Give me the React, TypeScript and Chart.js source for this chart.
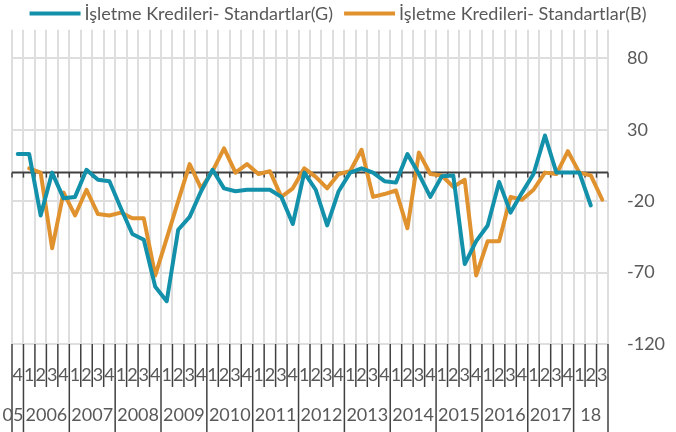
import React, { useEffect, useRef } from 'react';
import { Chart, registerables } from 'chart.js';

Chart.register(...registerables);

// Quarter labels for every category (2005Q4 ... 2018Q3)
const quarterLabels: string[] = [
  '4',
  '1', '2', '3', '4', // 2006
  '1', '2', '3', '4', // 2007
  '1', '2', '3', '4', // 2008
  '1', '2', '3', '4', // 2009
  '1', '2', '3', '4', // 2010
  '1', '2', '3', '4', // 2011
  '1', '2', '3', '4', // 2012
  '1', '2', '3', '4', // 2013
  '1', '2', '3', '4', // 2014
  '1', '2', '3', '4', // 2015
  '1', '2', '3', '4', // 2016
  '1', '2', '3', '4', // 2017
  '1', '2', '3',      // 2018
];

// Year group labels (a new group starts where the quarter is "1")
const yearLabels: string[] = [
  '05', '2006', '2007', '2008', '2009', '2010', '2011', '2012',
  '2013', '2014', '2015', '2016', '2017', '18',
];

const seriesNames: string[] = [
  'İşletme Kredileri- Standartlar(G)',
  'İşletme Kredileri- Standartlar(B)',
];

const seriesG: (number | null)[] = [
  13,
  13, -30, 0, -18,
  -17, 2, -5, -6,
  -25, -43, -47, -80,
  -90, -40, -31, -13,
  2, -11, -13, -12,
  -12, -12, -17, -36,
  0, -12, -37, -13,
  0, 3, 0, -6,
  -7, 13, -1, -17,
  -2.5, -2, -64, -48,
  -37, -6.5, -28, -14,
  -1, 26, 0, 0,
  0, -23, null,
];

const seriesB: (number | null)[] = [
  null,
  3, 0, -53, -14,
  -30, -12, -29, -30,
  -28, -32, -32, -72,
  -46, -20, 6, -11,
  1, 17, 0, 6,
  -1, 1, -17, -11,
  3, -3, -11, -1,
  1, 16, -17, -15,
  -12.5, -39, 14, -1,
  -2, -10, -5, -72,
  -48, -48, -17, -19,
  -12, 0, -1, 15,
  0, -2, -19,
];

const yTickValues: number[] = [-120, -70, -20, 30, 80];
const yMin = -120;
const yMax = 100;

const colorG = '#1390AA';
const colorB = '#E0922F';
const TEXT = '#595959';
const DARK = '#404040';
const GRID = '#dedede';
const FONT_FAMILY = 'Lato';
const FONT_SIZE = 18;

const excelAxisPlugin = {
  id: 'excelAxis',
  beforeDatasetsDraw(chart: any) {
    const { ctx, chartArea, scales } = chart;
    const x = scales.x;
    const y = scales.y;
    const n = chart.data.labels.length;
    const half = (x.getPixelForValue(1) - x.getPixelForValue(0)) / 2;
    const y0 = y.getPixelForValue(0);
    ctx.save();
    ctx.strokeStyle = DARK;
    ctx.lineWidth = 2;
    ctx.beginPath();
    ctx.moveTo(chartArea.left, y0);
    ctx.lineTo(chartArea.right, y0);
    ctx.stroke();
    ctx.lineWidth = 1.5;
    for (let i = 0; i <= n; i++) {
      const bx = i < n ? x.getPixelForValue(i) - half : x.getPixelForValue(n - 1) + half;
      ctx.beginPath();
      ctx.moveTo(bx, y0);
      ctx.lineTo(bx, y0 + 5);
      ctx.stroke();
    }
    ctx.restore();
  },
  afterDraw(chart: any) {
    const { ctx, chartArea, scales, width, height } = chart;
    const x = scales.x;
    const labels: string[] = chart.data.labels;
    const n = labels.length;
    const half = (x.getPixelForValue(1) - x.getPixelForValue(0)) / 2;
    const bottom = chartArea.bottom;
    const boundary = (i: number) =>
      i < n ? x.getPixelForValue(i) - half : x.getPixelForValue(n - 1) + half;

    ctx.save();
    ctx.font = `${FONT_SIZE}px ${FONT_FAMILY}`;
    ctx.fillStyle = TEXT;
    ctx.textBaseline = 'middle';

    // quarter labels
    ctx.textAlign = 'center';
    for (let i = 0; i < n; i++) {
      ctx.fillText(labels[i], x.getPixelForValue(i), bottom + 31);
    }

    // year groups
    const starts: number[] = [0];
    for (let i = 1; i < n; i++) if (labels[i] === '1') starts.push(i);
    const isYearStart = new Set(starts);

    ctx.strokeStyle = DARK;
    ctx.lineWidth = 1.5;
    for (let i = 0; i <= n; i++) {
      const bx = boundary(i);
      const full = i === n || isYearStart.has(i);
      ctx.beginPath();
      ctx.moveTo(bx, bottom);
      ctx.lineTo(bx, full ? height : bottom + 43);
      ctx.stroke();
    }

    for (let g = 0; g < starts.length; g++) {
      const s = starts[g];
      const e = g + 1 < starts.length ? starts[g + 1] : n;
      const left = boundary(s);
      const right = boundary(e);
      const text = yearLabels[g];
      const w = ctx.measureText(text).width;
      if (w > right - left) {
        ctx.textAlign = 'right';
        ctx.fillText(text, right, bottom + 71);
      } else {
        ctx.textAlign = 'center';
        ctx.fillText(text, (left + right) / 2, bottom + 71);
      }
    }

    // legend
    const lineLen = 51;
    const gap = 4;
    const itemGap = 11;
    const items = chart.data.datasets.map((d: any) => ({
      label: d.label,
      color: d.borderColor,
      w: ctx.measureText(d.label).width,
    }));
    const total =
      items.reduce((a: number, it: any) => a + lineLen + gap + it.w, 0) + itemGap * (items.length - 1);
    let cx = (width - total) / 2;
    const ly = 13.5;
    ctx.textAlign = 'left';
    ctx.textBaseline = 'alphabetic';
    for (const it of items) {
      ctx.strokeStyle = it.color;
      ctx.lineWidth = 4;
      ctx.beginPath();
      ctx.moveTo(cx, ly);
      ctx.lineTo(cx + lineLen, ly);
      ctx.stroke();
      cx += lineLen + gap;
      ctx.fillStyle = TEXT;
      ctx.fillText(it.label, cx, 19.5);
      cx += it.w + itemGap;
    }
    ctx.restore();
  },
};

export default function App() {
  const canvasRef = useRef<HTMLCanvasElement | null>(null);

  useEffect(() => {
    document.body.style.margin = '0';
    const canvas = canvasRef.current;
    if (!canvas) return;
    const chart = new Chart(canvas, {
      type: 'line',
      data: {
        labels: quarterLabels,
        datasets: [
          {
            label: seriesNames[0],
            data: seriesG,
            borderColor: colorG,
            backgroundColor: colorG,
            borderWidth: 4,
            pointRadius: 0,
            borderJoinStyle: 'round',
            borderCapStyle: 'round',
            tension: 0,
          },
          {
            label: seriesNames[1],
            data: seriesB,
            borderColor: colorB,
            backgroundColor: colorB,
            borderWidth: 4,
            pointRadius: 0,
            borderJoinStyle: 'round',
            borderCapStyle: 'round',
            tension: 0,
          },
        ],
      },
      options: {
        responsive: false,
        animation: false,
        events: [],
        layout: { padding: { left: 12, top: 28, right: 0, bottom: 0 } },
        plugins: {
          legend: { display: false },
          tooltip: { enabled: false },
        },
        scales: {
          x: {
            type: 'category',
            offset: true,
            grid: { offset: true, color: GRID, lineWidth: 2, drawTicks: false },
            border: { display: false },
            ticks: { display: false },
            afterFit: (scale: any) => {
              scale.height = 88;
            },
          },
          y: {
            position: 'right',
            min: yMin,
            max: yMax,
            afterBuildTicks: (scale: any) => {
              scale.ticks = yTickValues.map((v) => ({ value: v }));
            },
            grid: { color: GRID, lineWidth: 2, drawTicks: false },
            border: { display: false },
            ticks: {
              color: TEXT,
              padding: 19,
              font: { family: FONT_FAMILY, size: FONT_SIZE },
            },
            afterFit: (scale: any) => {
              scale.width = 68;
            },
          },
        },
      },
      plugins: [excelAxisPlugin],
    } as any);
    return () => chart.destroy();
  }, []);

  return (
    <div style={{ position: 'fixed', left: 0, top: 0, width: 676, height: 432 }}>
      <canvas ref={canvasRef} width={676} height={432} />
    </div>
  );
}
